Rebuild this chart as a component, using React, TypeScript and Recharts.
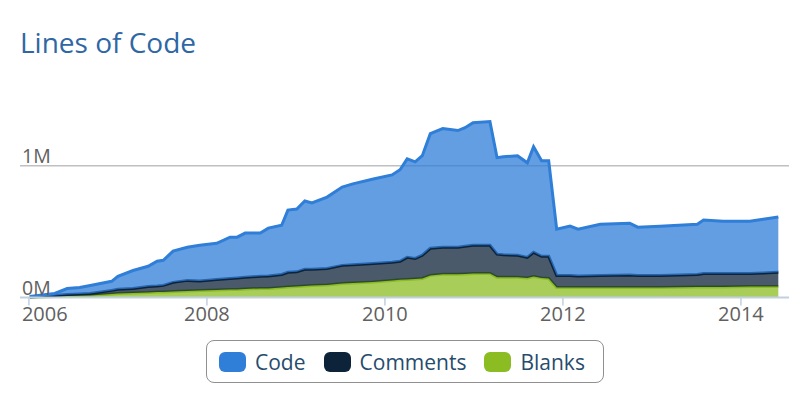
import { AreaChart, Area, XAxis, YAxis, CartesianGrid } from "recharts";

// decimal years
const dates = [
  2006.01, 2006.29, 2006.43, 2006.57, 2006.69, 2006.93, 2007.0, 2007.17, 2007.34, 2007.44,
  2007.51, 2007.62, 2007.78, 2007.92, 2008.11, 2008.26, 2008.34, 2008.43, 2008.6, 2008.69,
  2008.84, 2008.91, 2009.01, 2009.1, 2009.18, 2009.35, 2009.52, 2009.64, 2009.87, 2010.08,
  2010.17, 2010.25, 2010.34, 2010.42, 2010.51, 2010.65, 2010.82, 2010.9, 2010.99, 2011.18,
  2011.26, 2011.33, 2011.49, 2011.6, 2011.67, 2011.76, 2011.84, 2011.93, 2012.08, 2012.17,
  2012.42, 2012.75, 2012.84, 2013.09, 2013.51, 2013.58, 2013.8, 2014.1, 2014.25, 2014.42,
];

// thousands of lines
const code = [
  4, 15, 46, 50, 61, 69, 99, 137, 153, 187,
  191, 237, 252, 271, 275, 313, 309, 336, 328, 363,
  374, 473, 477, 519, 504, 542, 595, 615, 641, 664,
  695, 748, 733, 756, 870, 901, 886, 901, 931, 939,
  733, 744, 756, 718, 802, 725, 725, 351, 374, 355,
  389, 393, 366, 374, 382, 405, 397, 397, 408, 420,
];

const comments = [
  2, 8, 11, 11, 15, 27, 31, 34, 46, 46,
  50, 69, 80, 73, 80, 84, 88, 88, 92, 95,
  99, 111, 111, 126, 122, 126, 137, 137, 141, 137,
  141, 168, 156, 176, 206, 206, 206, 210, 214, 214,
  176, 172, 168, 156, 183, 164, 168, 92, 92, 88,
  92, 95, 92, 92, 95, 103, 103, 99, 103, 107,
];

const blanks = [
  2, 8, 11, 15, 15, 27, 31, 34, 38, 42,
  42, 46, 50, 53, 57, 61, 61, 65, 69, 69,
  76, 80, 84, 88, 92, 95, 107, 111, 118, 130,
  134, 137, 141, 145, 168, 176, 176, 179, 183, 183,
  153, 153, 153, 149, 160, 149, 145, 76, 76, 76,
  76, 76, 76, 76, 80, 80, 80, 84, 84, 84,
];

const yearTicks = [2006, 2008, 2010, 2012, 2014];
const valueTicks = [0, 1000000];
const valueLabels = ["0M", "1M"];

const series = [
  { key: "code", name: "Code", color: "#2f7ed8" },
  { key: "comments", name: "Comments", color: "#0d233a" },
  { key: "blanks", name: "Blanks", color: "#8bbc21" },
];

const data = dates.map((d, i) => ({
  date: d,
  code: code[i] * 1000,
  comments: comments[i] * 1000,
  blanks: blanks[i] * 1000,
}));

const font = "'Open Sans', sans-serif";

const XTick = ({ x, y, payload, index }: any) => (
  <text
    x={index === 0 ? x - 7 : x}
    y={y}
    dy={13}
    textAnchor={index === 0 ? "start" : "middle"}
    fill="#606060"
    fontSize={20}
    fontFamily={font}
  >
    {payload.value}
  </text>
);

const YTick = ({ y, payload }: any) => (
  <text x={22} y={y - 3} textAnchor="start" fill="#606060" fontSize={19.5} fontFamily={font}>
    {valueLabels[valueTicks.indexOf(payload.value)]}
  </text>
);

export default function App() {
  // stacking order bottom-up: blanks, comments, code
  const stacked = [...series].reverse();
  return (
    <div style={{ position: "absolute", left: 0, top: 0, width: 800, height: 396, background: "#fff" }}>
      <div
        style={{
          position: "absolute",
          left: 20,
          top: 28,
          fontFamily: font,
          fontSize: 28,
          lineHeight: 1,
          color: "#2f67a4",
        }}
      >
        Lines of Code
      </div>
      <AreaChart
        width={800}
        height={396}
        data={data}
        margin={{ top: 100, right: 11, bottom: 68.5, left: 19 }}
      >
        <CartesianGrid
          vertical={false}
          horizontalValues={[1000000]}
          stroke="#c0c0c0"
          strokeWidth={1.5}
        />
        <XAxis
          dataKey="date"
          type="number"
          domain={[2005.9, 2014.54]}
          ticks={yearTicks}
          allowDataOverflow
          height={30}
          tickSize={8}
          axisLine={{ stroke: "#c0d0e0", strokeWidth: 2 }}
          tickLine={{ stroke: "#c0d0e0", strokeWidth: 1.5 }}
          tick={<XTick />}
        />
        <YAxis
          width={1}
          domain={[0, 1500000]}
          ticks={valueTicks}
          interval={0}
          axisLine={false}
          tickLine={false}
          tick={<YTick />}
        />
        {stacked.map((s) => (
          <Area
            key={s.key}
            type="linear"
            dataKey={s.key}
            name={s.name}
            stackId="loc"
            stroke={s.color}
            strokeWidth={3}
            fill={s.color}
            fillOpacity={0.75}
            isAnimationActive={false}
            dot={false}
            activeDot={false}
          />
        ))}
      </AreaChart>
      <div
        style={{
          position: "absolute",
          left: 206,
          top: 340,
          width: 398,
          height: 43,
          border: "1.5px solid #909090",
          borderRadius: 8,
          display: "flex",
          alignItems: "center",
          justifyContent: "flex-start",
          boxSizing: "border-box",
          paddingLeft: 12,
          gap: 18,
          fontFamily: font,
          fontSize: 21,
          color: "#274b6d",
        }}
      >
        {series.map((s) => (
          <div key={s.key} style={{ display: "flex", alignItems: "center" }}>
            <span
              style={{
                display: "inline-block",
                width: 27,
                height: 20,
                borderRadius: 6,
                background: s.color,
                marginRight: 9,
              }}
            />
            <span>{s.name}</span>
          </div>
        ))}
      </div>
    </div>
  );
}
